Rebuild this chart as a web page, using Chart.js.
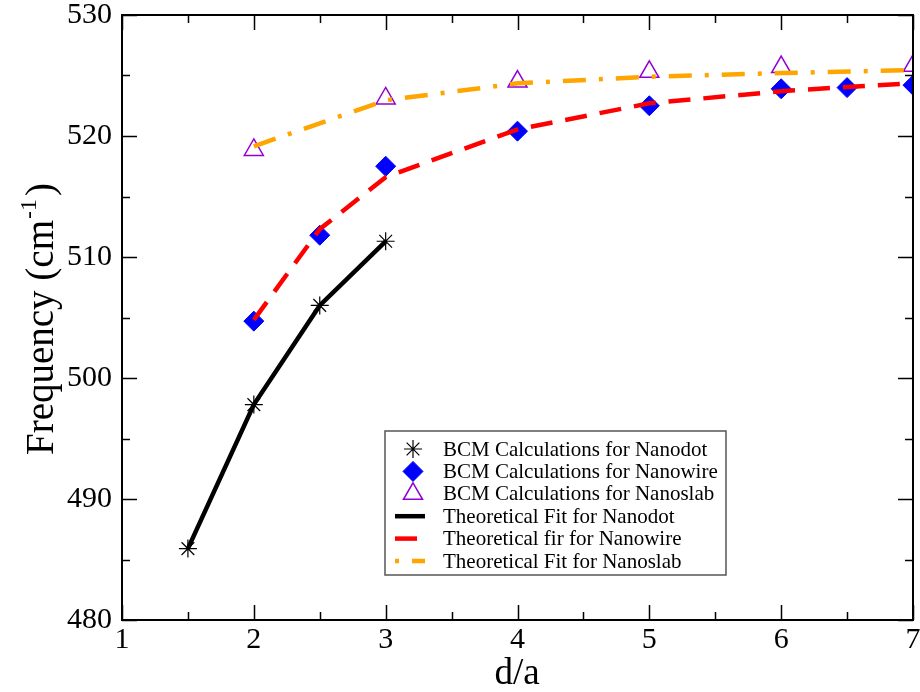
<!DOCTYPE html>
<html>
<head>
<meta charset="utf-8">
<script src="https://cdn.jsdelivr.net/npm/chart.js@4/dist/chart.umd.min.js"></script>
<style>
  html, body { margin: 0; padding: 0; background: #fff; overflow: hidden; }
  #wrap { width: 920px; height: 692px; position: relative; overflow: hidden; }
  #c { display: block; }
</style>
</head>
<body>
<div id="wrap"><canvas id="c"></canvas></div>
<script>
// Phonon frequency vs. size ratio d/a
const SERIF = '"Liberation Serif", "Times New Roman", serif';

// BCM calculations
const dotX = [1.5, 2, 2.5, 3];
const dotBCM = [485.9, 497.8, 506.0, 511.3];

const wireX = [2, 2.5, 3, 4, 5, 6, 6.5, 7];
const wireBCM = [504.7, 511.8, 517.5, 520.4, 522.5, 523.9, 524.0, 524.2];

const slabX = [2, 3, 4, 5, 6, 7];
const slabBCM = [518.85, 523.1, 524.5, 525.3, 525.7, 525.8];

// Theoretical fits
const dotFitX = [1.5, 2, 2.5, 3];
const dotFit = [485.9, 497.8, 506.0, 511.3];

const wireFitX = [2, 2.5, 3, 4, 5, 6, 6.5, 7];
const wireFit = [504.8, 512.3, 516.6, 520.55, 522.7, 523.7, 524.05, 524.35];

const slabFitX = [2, 3, 4, 5, 6, 7];
const slabFit = [519.15, 522.95, 524.35, 524.9, 525.2, 525.45];

// Axis ranges and tick labels
const xTicks = [1, 2, 3, 4, 5, 6, 7];
const yTicks = [480, 490, 500, 510, 520, 530];

const legendLabels = [
  'BCM Calculations for Nanodot',
  'BCM Calculations for Nanowire',
  'BCM Calculations for Nanoslab',
  'Theoretical Fit for Nanodot',
  'Theoretical fir for Nanowire',
  'Theoretical Fit for Nanoslab'
];

const pts = (xs, ys) => xs.map((x, i) => ({ x: x, y: ys[i] }));

// Plot box: the last x label may hang past the right edge of the frame
const PLOT_RIGHT_GAP = 7;
const plotBoxPlugin = {
  id: 'plotBox',
  afterLayout(chart) {
    const s = chart.scales.x;
    const right = chart.width - PLOT_RIGHT_GAP;
    const a = chart.chartArea;
    a.right = right;
    a.width = a.right - a.left;
    s.right = right;
    s.width = s.right - s.left;
    s.configure();
    s._labelItems = null;
  }
};

// Frame with inward major/minor ticks on all four sides
const framePlugin = {
  id: 'frame',
  afterDatasetsDraw(chart) {
    const { ctx, chartArea: a, scales } = chart;
    const xs = scales.x, ys = scales.y;
    ctx.save();
    ctx.strokeStyle = '#000';
    ctx.lineWidth = 1.5;
    ctx.beginPath();
    for (let v = xTicks[0]; v <= xTicks[xTicks.length - 1] + 1e-9; v += 0.5) {
      const px = Math.round(xs.getPixelForValue(v)) + 0.5;
      const major = Math.abs(v - Math.round(v)) < 1e-9;
      const len = major ? 15 : 8;
      ctx.moveTo(px, a.bottom); ctx.lineTo(px, a.bottom - len);
      ctx.moveTo(px, a.top); ctx.lineTo(px, a.top + len);
    }
    for (let v = yTicks[0]; v <= yTicks[yTicks.length - 1] + 1e-9; v += 5) {
      const py = Math.round(ys.getPixelForValue(v)) + 0.5;
      const major = v % 10 === 0;
      const len = major ? 15 : 8;
      ctx.moveTo(a.left, py); ctx.lineTo(a.left + len, py);
      ctx.moveTo(a.right, py); ctx.lineTo(a.right - len, py);
    }
    ctx.stroke();
    ctx.lineWidth = 2;
    ctx.strokeRect(a.left, a.top, a.right - a.left, a.bottom - a.top);
    ctx.restore();
  }
};

// Axis titles (y title carries a superscript)
const titlePlugin = {
  id: 'titles',
  afterDraw(chart) {
    const { ctx } = chart;
    ctx.save();
    ctx.fillStyle = '#000';
    ctx.textBaseline = 'alphabetic';
    // x title
    ctx.font = '37px ' + SERIF;
    ctx.textAlign = 'center';
    ctx.fillText('d/a', 517, 684);
    // y title
    const big = '39px ' + SERIF, sup = '24px ' + SERIF;
    ctx.font = big;
    const w1 = ctx.measureText('Frequency (cm').width;
    const w3 = ctx.measureText(')').width;
    ctx.font = sup;
    const w2 = ctx.measureText('-1').width;
    const total = w1 + w2 + 4 + w3;
    const cy = 319;
    ctx.translate(53, cy);
    ctx.rotate(-Math.PI / 2);
    ctx.textAlign = 'left';
    let x0 = -total / 2;
    ctx.font = big;
    ctx.fillText('Frequency (cm', x0, 0);
    ctx.font = sup;
    ctx.fillText('-1', x0 + w1 + 1, -17);
    ctx.font = big;
    ctx.fillText(')', x0 + w1 + w2 + 4, 0);
    ctx.restore();
  }
};

// Boxed legend inside the plot area
const legendPlugin = {
  id: 'boxLegend',
  afterDraw(chart) {
    const { ctx } = chart;
    const box = { l: 385, t: 431, r: 726, b: 575 };
    ctx.save();
    ctx.fillStyle = '#fff';
    ctx.fillRect(box.l, box.t, box.r - box.l, box.b - box.t);
    ctx.strokeStyle = '#555';
    ctx.lineWidth = 1.5;
    ctx.strokeRect(box.l, box.t, box.r - box.l, box.b - box.t);
    const rowY0 = 449, step = 22.4, symX = 413, textX = 443;
    ctx.font = '21px ' + SERIF;
    ctx.textAlign = 'left';
    ctx.textBaseline = 'middle';
    chart.data.datasets.forEach((ds, i) => {
      const y = rowY0 + i * step;
      ctx.save();
      if (ds.showLine) {
        ctx.strokeStyle = ds.borderColor;
        ctx.lineWidth = ds.borderWidth;
        ctx.setLineDash(ds.borderDash || []);
        ctx.lineDashOffset = ds.legendDashOffset || 0;
        ctx.beginPath();
        ctx.moveTo(395, y); ctx.lineTo(425, y);
        ctx.stroke();
      } else {
        ctx.fillStyle = ds.backgroundColor;
        ctx.strokeStyle = ds.borderColor;
        ctx.lineWidth = ds.borderWidth;
        Chart.helpers.drawPoint(ctx, {
          pointStyle: ds.pointStyle,
          radius: ds.legendRadius,
          rotation: 0,
          borderWidth: ds.borderWidth
        }, symX, y);
      }
      ctx.restore();
      ctx.fillStyle = '#000';
      ctx.fillText(ds.label, textX, y + 1);
    });
    ctx.restore();
  }
};

new Chart(document.getElementById('c'), {
  type: 'scatter',
  data: {
    datasets: [
      {
        label: legendLabels[0], data: pts(dotX, dotBCM), showLine: false,
        pointStyle: 'star', pointRadius: 9, legendRadius: 9,
        borderColor: '#000', backgroundColor: '#000', borderWidth: 1.2, order: 1
      },
      {
        label: legendLabels[1], data: pts(wireX, wireBCM), showLine: false,
        pointStyle: 'rectRot', pointRadius: 10, legendRadius: 10,
        borderColor: '#0000ff', backgroundColor: '#0000ff', borderWidth: 1, order: 2
      },
      {
        label: legendLabels[2], data: pts(slabX, slabBCM), showLine: false,
        pointStyle: 'triangle', pointRadius: 11, legendRadius: 11,
        borderColor: '#9400d3', backgroundColor: 'rgba(0,0,0,0)', borderWidth: 1.5, order: 2
      },
      {
        label: legendLabels[3], data: pts(dotFitX, dotFit), showLine: true,
        borderColor: '#000', backgroundColor: '#000', borderWidth: 4.5,
        pointRadius: 0, tension: 0, order: 1.5
      },
      {
        label: legendLabels[4], data: pts(wireFitX, wireFit), showLine: true,
        borderColor: '#ff0000', backgroundColor: '#ff0000', borderWidth: 4.5,
        borderDash: [22, 13], pointRadius: 0, tension: 0, order: 0
      },
      {
        label: legendLabels[5], data: pts(slabFitX, slabFit), showLine: true,
        borderColor: '#ffa500', backgroundColor: '#ffa500', borderWidth: 4.5,
        borderDash: [23, 13, 4, 13], legendDashOffset: 36, pointRadius: 0, tension: 0, order: 0
      }
    ]
  },
  options: {
    responsive: true,
    maintainAspectRatio: false,
    animation: false,
    events: [],
    layout: { padding: { left: 0, top: 15, right: 7, bottom: 0 } },
    plugins: { legend: { display: false }, tooltip: { enabled: false } },
    scales: {
      x: {
        type: 'linear',
        min: xTicks[0], max: xTicks[xTicks.length - 1],
        afterFit(s) { s.height = 72; s.paddingLeft = 0; s.paddingRight = 0; },
        afterBuildTicks(s) { s.ticks = xTicks.map(v => ({ value: v })); },
        grid: { display: false, drawTicks: false },
        border: { display: false },
        ticks: {
          padding: 2, color: '#000',
          font: { family: SERIF, size: 30 },
          maxRotation: 0, autoSkip: false
        }
      },
      y: {
        type: 'linear',
        min: yTicks[0], max: yTicks[yTicks.length - 1],
        afterFit(s) { s.width = 122; s.paddingTop = 0; s.paddingBottom = 0; },
        afterBuildTicks(s) { s.ticks = yTicks.map(v => ({ value: v })); },
        grid: { display: false, drawTicks: false },
        border: { display: false },
        ticks: {
          padding: 10, color: '#000',
          font: { family: SERIF, size: 30 },
          autoSkip: false
        }
      }
    }
  },
  plugins: [plotBoxPlugin, framePlugin, titlePlugin, legendPlugin]
});
</script>
</body>
</html>
